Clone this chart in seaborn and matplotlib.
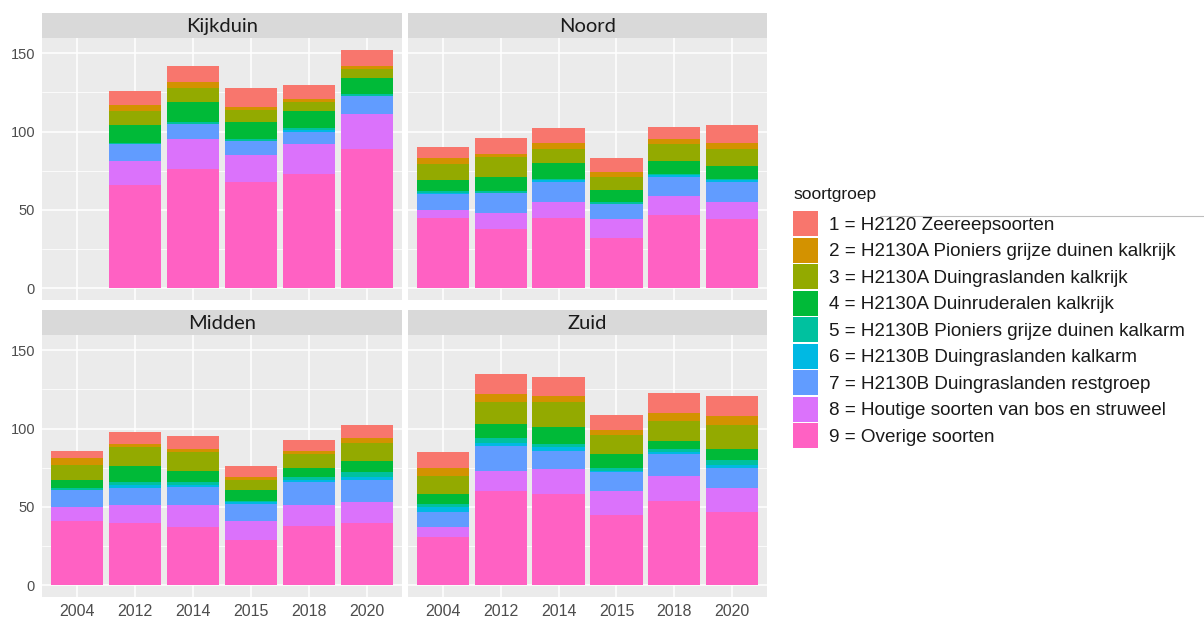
import numpy as np
import pandas as pd
import seaborn as sns
import matplotlib.pyplot as plt
from matplotlib.patches import Patch
from matplotlib.lines import Line2D

years = ["2004", "2012", "2014", "2015", "2018", "2020"]
regions = ["Kijkduin", "Noord", "Midden", "Zuid"]
groups = [
    "1 = H2120 Zeereepsoorten",
    "2 = H2130A Pioniers grijze duinen kalkrijk",
    "3 = H2130A Duingraslanden kalkrijk",
    "4 = H2130A Duinruderalen kalkrijk",
    "5 = H2130B Pioniers grijze duinen kalkarm",
    "6 = H2130B Duingraslanden kalkarm",
    "7 = H2130B Duingraslanden restgroep",
    "8 = Houtige soorten van bos en struweel",
    "9 = Overige soorten",
]
colors = ["#F8766D", "#D39200", "#93AA00", "#00BA38", "#00C19F",
          "#00B9E3", "#619CFF", "#DB72FB", "#FF61C3"]

# rows = groups 1..9, columns = years
kijkduin = [
    [0, 9, 10, 12, 9, 10],
    [0, 4, 4, 2, 2, 2],
    [0, 9, 9, 8, 6, 6],
    [0, 11, 13, 11, 11, 10],
    [0, 1, 1, 1, 1, 1],
    [0, 0, 0, 0, 1, 0],
    [0, 11, 10, 9, 8, 12],
    [0, 15, 19, 17, 19, 22],
    [0, 66, 76, 68, 73, 89],
]
noord = [
    [7, 10, 9, 9, 8, 11],
    [4, 2, 4, 3, 3, 4],
    [10, 13, 9, 8, 11, 11],
    [7, 9, 10, 8, 8, 8],
    [1, 1, 1, 1, 1, 1],
    [1, 0, 1, 0, 1, 1],
    [10, 13, 13, 10, 12, 13],
    [5, 10, 10, 12, 12, 11],
    [45, 38, 45, 32, 47, 44],
]
midden = [
    [5, 8, 8, 7, 7, 8],
    [4, 2, 2, 2, 2, 3],
    [10, 12, 12, 6, 9, 12],
    [5, 10, 7, 7, 6, 7],
    [1, 2, 2, 1, 2, 3],
    [0, 2, 1, 1, 1, 2],
    [11, 11, 12, 11, 15, 14],
    [9, 11, 14, 12, 13, 13],
    [41, 40, 37, 29, 38, 40],
]
zuid = [
    [10, 13, 12, 10, 13, 13],
    [5, 5, 4, 3, 5, 6],
    [12, 14, 16, 12, 13, 15],
    [6, 9, 11, 9, 5, 7],
    [2, 3, 2, 2, 2, 3],
    [3, 2, 2, 1, 1, 2],
    [10, 16, 12, 12, 14, 13],
    [6, 13, 16, 15, 16, 15],
    [31, 60, 58, 45, 54, 47],
]
region_data = {"Kijkduin": kijkduin, "Noord": noord, "Midden": midden, "Zuid": zuid}

sns.set_style("darkgrid")
plt.rcParams["font.family"] = ["Liberation Sans", "DejaVu Sans"]

W, H = 1204, 617
fig = plt.figure(figsize=(W / 100, H / 100), dpi=100)

# panel pixel boxes: (left, top, right, bottom)
boxes = {
    "Kijkduin": (42, 38, 402, 300),
    "Noord": (408, 38, 767, 300),
    "Midden": (42, 335, 402, 597),
    "Zuid": (408, 335, 767, 597),
}
strip_h = 25

for reg in regions:
    l, t, r, b = boxes[reg]
    ax = fig.add_axes([l / W, (H - b) / H, (r - l) / W, (b - t) / H])
    vals = np.array(region_data[reg], dtype=float)
    # cumulative from bottom (group 9) upward
    cum = np.cumsum(vals[::-1], axis=0)[::-1]
    for k in range(9):
        df = pd.DataFrame({"jaar": years, "n": cum[k]})
        sns.barplot(data=df, x="jaar", y="n", order=years, color=colors[k],
                    saturation=1, width=0.9, errorbar=None, linewidth=0, ax=ax)
    ax.set_facecolor("#EBEBEB")
    ax.set_xlim(-0.6, 5.6)
    ax.set_ylim(-7.6, 159.8)
    ax.set_yticks([0, 50, 100, 150])
    ax.set_yticks([25, 75, 125], minor=True)
    ax.grid(which="major", color="white", lw=1.1)
    ax.grid(which="minor", axis="y", color="white", lw=0.55)
    ax.grid(which="minor", axis="x", visible=False)
    ax.set_axisbelow(True)
    for s in ax.spines.values():
        s.set_visible(False)
    ax.set_xlabel("")
    ax.set_ylabel("")
    ax.tick_params(axis="both", which="major", length=3, width=0.8, color="#333333",
                   labelcolor="#4D4D4D", pad=2)
    ax.tick_params(axis="y", labelsize=10.5)
    ax.tick_params(axis="x", labelsize=11.5)
    ax.tick_params(axis="both", which="minor", length=0)
    if reg in ("Noord", "Zuid"):
        ax.tick_params(axis="y", labelleft=False, length=0)
    if reg in ("Kijkduin", "Noord"):
        ax.tick_params(axis="x", labelbottom=False, length=0)
    # strip
    sax = fig.add_axes([l / W, (H - t) / H, (r - l) / W, strip_h / H])
    sax.set_facecolor("#D9D9D9")
    sax.set_xticks([])
    sax.set_yticks([])
    for s in sax.spines.values():
        s.set_visible(False)
    sax.text(0.5, 0.45, reg, ha="center", va="center", fontsize=14.5,
             family=["Lato", "DejaVu Sans"], color="#1A1A1A", transform=sax.transAxes)

fig.text(793 / W, 1 - 194 / H, "soortgroep", ha="left", va="center",
         fontsize=12.5, color="#1A1A1A")

handles = [Patch(facecolor=c, edgecolor="none") for c in colors]
leg = fig.legend(handles, groups, loc="upper left",
                 bbox_to_anchor=(793 / W, (H - 211) / H), frameon=False,
                 fontsize=13.6, handlelength=1.32, handleheight=1.66,
                 labelspacing=0.08, handletextpad=0.6, borderpad=0, borderaxespad=0)
for txt in leg.get_texts():
    txt.set_color("#1A1A1A")

fig.add_artist(Line2D([880 / W, 1.0], [(H - 216) / H, (H - 216) / H],
                      color="#BDBDBD", lw=0.8, transform=fig.transFigure))

fig.savefig("out.png", dpi=100)
